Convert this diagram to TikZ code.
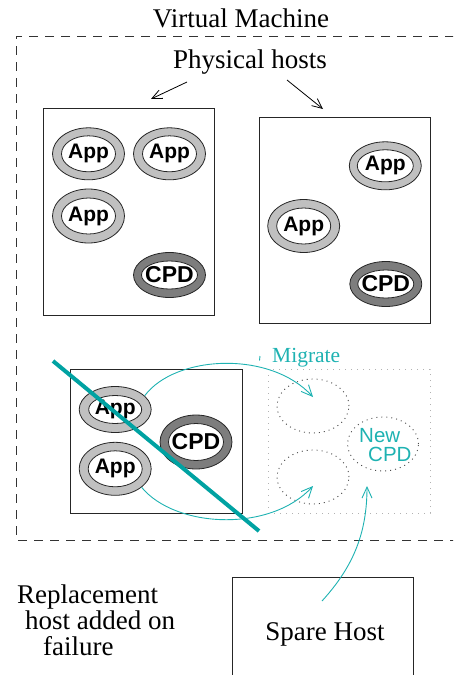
\documentclass[tikz,border=0pt]{standalone}
\usepackage{fontspec}
\setmainfont{Liberation Serif}
\setsansfont{Liberation Sans}
\usetikzlibrary{shapes.geometric,arrows.meta}
\definecolor{tealA}{RGB}{30,178,178}
\definecolor{tealB}{RGB}{0,162,162}
\definecolor{appgray}{RGB}{192,192,192}
\definecolor{cpdgray}{RGB}{125,125,125}
\newcommand\ringnode[7]{%
  \node[ringouter, fill=#4, minimum height=#5pt] (#1) at (#2) {};
  \node[ringinner, minimum width=#7pt, minimum height=#6pt] (#1i) at (#1) {};
  \node[ringtext] at (#1) {#3};
}
\begin{document}
\begin{tikzpicture}[x=1pt,y=-1pt,
  bigtext/.style={font=\fontsize{27}{27}\selectfont, inner sep=0pt},
  hostbox/.style={draw=black!85, line width=0.9pt, rectangle, inner sep=0pt},
  ringouter/.style={ellipse, draw=black!85, line width=0.8pt, minimum width=72pt, inner sep=0pt},
  ringinner/.style={ellipse, draw=black!85, line width=0.8pt, fill=white, inner sep=0pt},
  ringtext/.style={font=\sffamily\bfseries\fontsize{21}{21}\selectfont, inner sep=0pt},
  ghost/.style={ellipse, draw=black!70, line width=0.9pt, dash pattern=on 1pt off 4pt, minimum width=72pt, minimum height=54pt, inner sep=0pt},
  barb/.style={-{Straight Barb[length=10pt,width=9pt]}},
  migarrow/.style={tealA, line width=0.9pt, -{Straight Barb[length=11pt,width=10pt]}},
]
\path[use as bounding box] (0,0) rectangle (453,675);
\clip (0,0) rectangle (453,675);

% titles
\node[bigtext, anchor=base] (vm) at (241,27) {Virtual Machine};
\draw[black!80, line width=0.9pt, dash pattern=on 9pt off 7pt] (470,36) -- (16,36) -- (16,540) -- (470,540);
\node[bigtext, anchor=base] (ph) at (250,68) {Physical hosts};
\coordinate (pa1) at (187,82);
\coordinate (pt1) at (151,99);
\coordinate (pa2) at (287,80);
\coordinate (pt2) at (323,109);
\draw[barb, line width=0.8pt] (pa1) -- (pt1);
\draw[barb, line width=0.8pt] (pa2) -- (pt2);

% host 1
\node[hostbox, minimum width=171pt, minimum height=207pt] (h1) at (128.5,211.5) {};
\ringnode{h1a1}{88.5,153.8}{App}{appgray}{52}{36}{54}
\ringnode{h1a2}{169.5,153.8}{App}{appgray}{52}{36}{54}
\ringnode{h1a3}{88.5,216}{App}{appgray}{54}{36}{54}
\ringnode{h1c}{169.5,275}{\fontsize{23}{23}\selectfont CPD}{cpdgray}{45}{28}{56}

% host 2
\node[hostbox, minimum width=171pt, minimum height=206pt] (h2) at (344.5,220) {};
\ringnode{h2a1}{385.3,165.8}{App}{appgray}{48}{32}{56}
\ringnode{h2a2}{303.7,226}{App}{appgray}{53}{36}{54}
\ringnode{h2c}{385.8,284}{\fontsize{23}{23}\selectfont CPD}{cpdgray}{45}{28}{56}

% host 3 (failed)
\node[hostbox, minimum width=172pt, minimum height=144pt] (h3) at (156,441) {};
\ringnode{h3a1}{115.2,409.5}{App}{appgray}{46}{28}{53}
\ringnode{h3a2}{115.2,468.8}{App}{appgray}{53}{36}{54}
\ringnode{h3c}{196,442}{\fontsize{23}{23}\selectfont CPD}{cpdgray}{54}{37}{55}

% replacement region
\node[rectangle, draw=black!30, line width=0.9pt, dash pattern=on 1pt off 5pt, minimum width=162pt, minimum height=144pt, inner sep=0pt] (rep) at (349,441) {};
\node[ghost] (d1) at (313,406) {};
\node[ghost] (d2) at (313,477) {};
\node[ghost, minimum width=71pt] (d3) at (383,444) {};
\node[font=\sffamily\fontsize{20.5}{17}\selectfont, text=tealA, inner sep=0pt, anchor=base west] (nc) at (359,442)
  {\begin{tabular}[t]{@{}l@{}}New\\\hspace*{9pt}CPD\end{tabular}};

% migration
\coordinate (m1) at (313,397);
\coordinate (m2) at (313,486);
\draw[migarrow] (h3a1.25) .. controls (175,355) and (270,350) .. (m1);
\draw[migarrow] (h3a2.-35) .. controls (175,528) and (270,533) .. (m2);
\node[font=\fontsize{21.5}{21.5}\selectfont, text=tealA, inner sep=0pt, anchor=base west] (mig) at (272,362) {Migrate};
\coordinate (tk1) at (260,356);
\coordinate (tk2) at (259.5,360.5);
\draw[tealA, line width=0.9pt] (tk1) -- (tk2);

% failure slash
\coordinate (s1) at (53,361);
\coordinate (s2) at (259,531);
\draw[tealB, line width=4pt] (s1) -- (s2);

% spare host
\node[hostbox, minimum width=181pt, minimum height=130pt] (sp) at (322.5,642) {};
\node[bigtext, anchor=base] (spt) at (325,640) {Spare Host};
\coordinate (sa) at (322,601);
\coordinate (sb) at (367,486);
\draw[migarrow] (sa) .. controls (352,568) and (367,535) .. (sb);

% caption
\node[font=\fontsize{27}{24.5}\selectfont, inner sep=0pt, anchor=base west] (cap) at (17,603)
  {\begin{tabular}[t]{@{}l@{}}Replacement\\\hspace*{8pt}host added on\\\hspace*{26pt}failure\end{tabular}};
\end{tikzpicture}
\end{document}
